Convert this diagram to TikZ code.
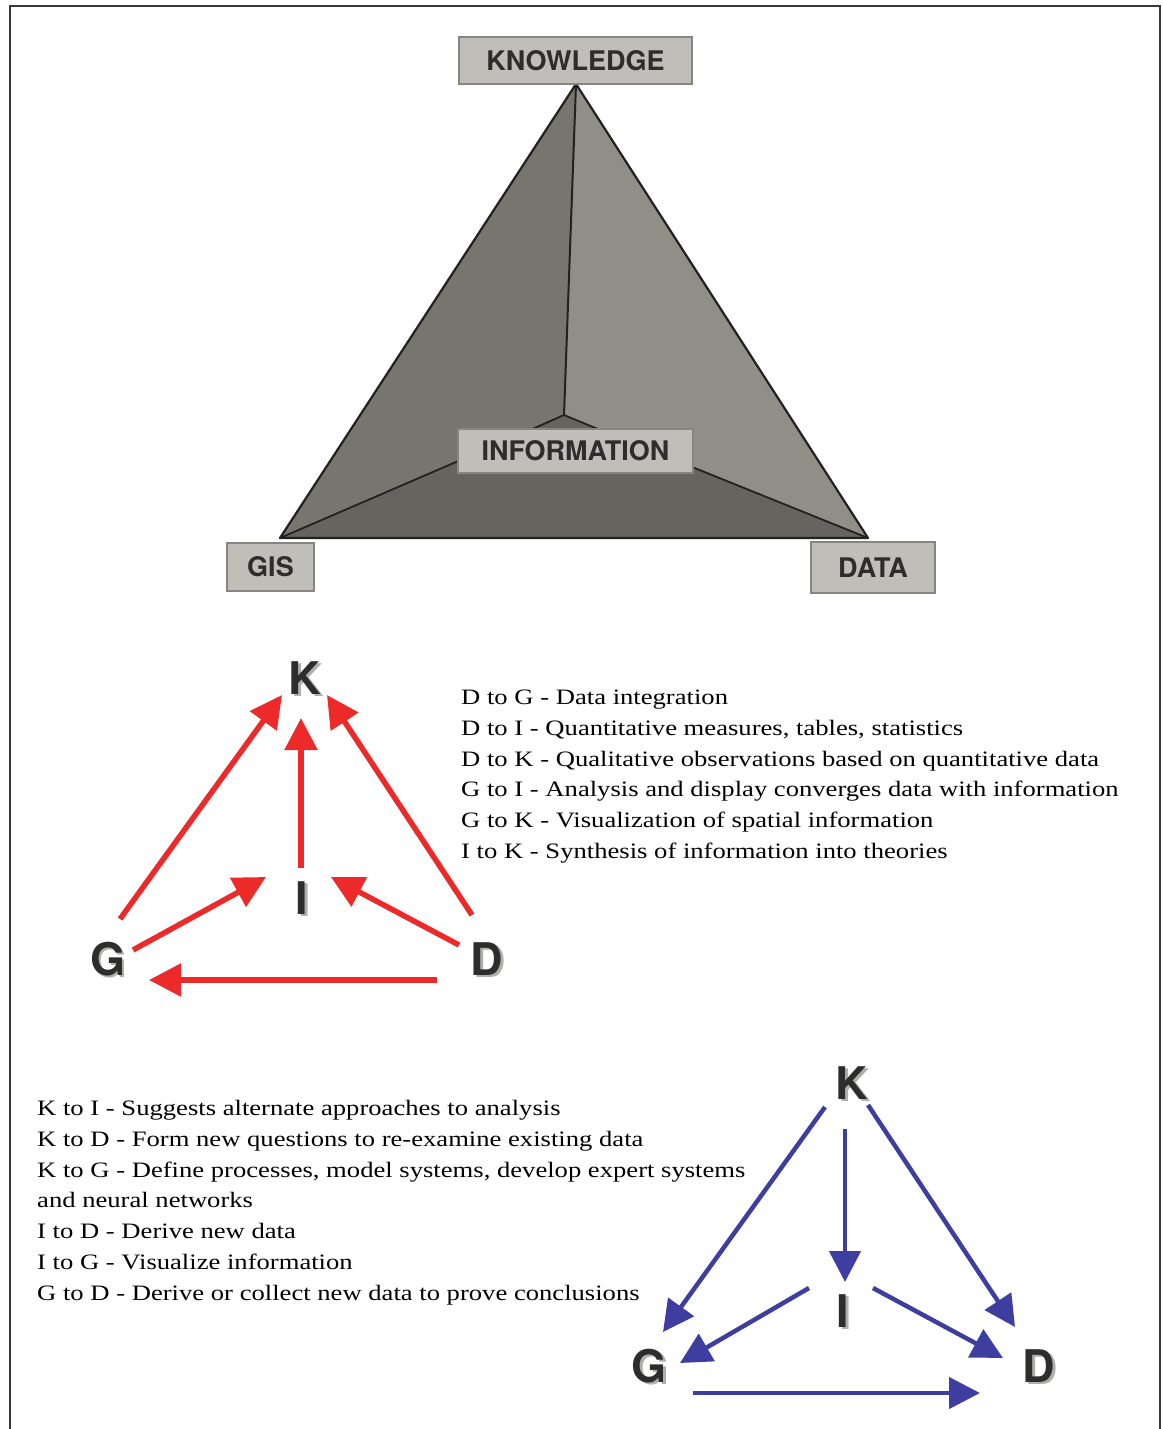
\documentclass[tikz,border=0pt]{standalone}
\usepackage{fontspec}
\usepackage{graphicx}
\setmainfont{Liberation Serif}
\newfontfamily\labfont{TeX Gyre Heros}
\usetikzlibrary{arrows.meta}
\definecolor{frameC}{RGB}{60,58,55}
\definecolor{boxFill}{RGB}{192,190,184}
\definecolor{boxLine}{RGB}{135,133,128}
\definecolor{faceL}{RGB}{120,117,111}
\definecolor{faceR}{RGB}{145,142,136}
\definecolor{faceB}{RGB}{103,100,95}
\definecolor{edgeC}{RGB}{35,33,32}
\definecolor{redA}{RGB}{236,42,42}
\definecolor{blueA}{RGB}{62,62,160}
\definecolor{letterC}{RGB}{45,45,45}
\definecolor{shadowC}{RGB}{175,175,172}
\newcommand\stretchtxt[1]{\scalebox{1.21}[1]{#1}}
\newcommand\shadowed[1]{\makebox[0pt][l]{\hspace{2.5pt}\raisebox{-2.5pt}{\textcolor{shadowC}{#1}}}#1}
\tikzset{
  pbox/.style={draw=boxLine, line width=1.5pt, fill=boxFill, inner sep=0pt,
    text=letterC, font=\labfont\bfseries\fontsize{27}{30}\selectfont},
  bigletter/.style={inner sep=0pt, text=letterC, font=\labfont\bfseries\fontsize{45}{50}\selectfont},
  redarrow/.style={draw=redA, line width=5.5pt, -{Triangle[length=32pt,width=32pt]}},
  bluearrow/.style={draw=blueA, line width=4.5pt, -{Triangle[length=31pt,width=31pt]}},
  desc/.style={anchor=base west, inner sep=0pt, font=\fontsize{22}{26}\selectfont},
  edge line/.style={draw=edgeC, line width=2pt, line join=round}
}
\begin{document}
\begin{tikzpicture}[x=1pt,y=-1pt]
\useasboundingbox (0,0) rectangle (1162,1429);
\fill[white] (0,0) rectangle (1162,1429);
% frame
\draw[frameC, line width=2.5pt] (10,1429) -- (10,6) -- (1160,6) -- (1160,1429);

% pyramid
\coordinate (apex) at (576,84);
\coordinate (pG) at (280,538);
\coordinate (pD) at (868,538);
\coordinate (pBL) at (537,427);
\coordinate (pTop) at (564,415);
\coordinate (pBR) at (593,427);
\fill[faceL] (apex) -- (pG) -- (pBL) -- (pTop) -- cycle;
\fill[faceR] (apex) -- (pTop) -- (pBR) -- (pD) -- cycle;
\fill[faceB] (pG) -- (pBL) -- (pTop) -- (pBR) -- (pD) -- cycle;
\draw[edge line] (apex) -- (pTop);
\draw[edge line, line width=1.8pt] (pG) -- (pBL) -- (pTop) -- (pBR) -- (pD);
\draw[edge line, line width=2.2pt] (apex) -- (pG) -- (pD) -- cycle;

\node[pbox, minimum width=233pt, minimum height=47pt] (know) at (575.5,60.5) {KNOWLEDGE};
\node[pbox, minimum width=235pt, minimum height=44pt] (info) at (575.5,451) {INFORMATION};
\node[pbox, minimum width=87pt, minimum height=48pt] (gis) at (270.5,567) {GIS};
\node[pbox, minimum width=124pt, minimum height=51pt] (data) at (873,567.5) {DATA};

% red diagram
\node[bigletter] (rK) at (305,679) {\shadowed{K}};
\node[bigletter] (rI) at (302,899) {\shadowed{I}};
\node[bigletter] (rG) at (108,960) {\shadowed{G}};
\node[bigletter] (rD) at (487,960) {\shadowed{D}};
\coordinate (rGK1) at (120,919);  \coordinate (rGK2) at (282,695);
\coordinate (rIK1) at (301,868);  \coordinate (rIK2) at (301,718);
\coordinate (rDK1) at (472,915);  \coordinate (rDK2) at (327,695);
\coordinate (rGI1) at (133,950);  \coordinate (rGI2) at (266,877);
\coordinate (rDI1) at (459,945);  \coordinate (rDI2) at (331,877);
\coordinate (rDG1) at (437,980);  \coordinate (rDG2) at (149,980);
\draw[redarrow] (rGK1) -- (rGK2);
\draw[redarrow] (rIK1) -- (rIK2);
\draw[redarrow] (rDK1) -- (rDK2);
\draw[redarrow] (rGI1) -- (rGI2);
\draw[redarrow] (rDI1) -- (rDI2);
\draw[redarrow] (rDG1) -- (rDG2);

\node[desc] (rt1) at (461,704.5) {\stretchtxt{D to G - Data integration}};
\node[desc] (rt2) at (461,735.3) {\stretchtxt{D to I - Quantitative measures, tables, statistics}};
\node[desc] (rt3) at (461,766.1) {\stretchtxt{D to K - Qualitative observations based on quantitative data}};
\node[desc] (rt4) at (461,796.9) {\stretchtxt{G to I - Analysis and display converges data with information}};
\node[desc] (rt5) at (461,827.7) {\stretchtxt{G to K - Visualization of spatial information}};
\node[desc] (rt6) at (461,858.5) {\stretchtxt{I to K - Synthesis of information into theories}};

% blue diagram
\node[bigletter] (bK) at (852,1084) {\shadowed{K}};
\node[bigletter] (bI) at (843,1312) {\shadowed{I}};
\node[bigletter] (bG) at (649,1367) {\shadowed{G}};
\node[bigletter] (bD) at (1039,1367) {\shadowed{D}};
\coordinate (bKG1) at (825,1107); \coordinate (bKG2) at (663,1332);
\coordinate (bKI1) at (845,1129); \coordinate (bKI2) at (845,1282);
\coordinate (bKD1) at (868,1105); \coordinate (bKD2) at (1015,1327);
\coordinate (bIG1) at (809,1288); \coordinate (bIG2) at (680,1363);
\coordinate (bID1) at (873,1288); \coordinate (bID2) at (1003,1358);
\coordinate (bGD1) at (693,1393); \coordinate (bGD2) at (980,1393);
\draw[bluearrow] (bKG1) -- (bKG2);
\draw[bluearrow] (bKI1) -- (bKI2);
\draw[bluearrow] (bKD1) -- (bKD2);
\draw[bluearrow] (bIG1) -- (bIG2);
\draw[bluearrow] (bID1) -- (bID2);
\draw[bluearrow] (bGD1) -- (bGD2);

\node[desc] (bt1) at (37,1115.5) {\stretchtxt{K to I - Suggests alternate approaches to analysis}};
\node[desc] (bt2) at (37,1146.3) {\stretchtxt{K to D - Form new questions to re-examine existing data}};
\node[desc] (bt3) at (37,1177.1) {\stretchtxt{K to G - Define processes, model systems, develop expert systems}};
\node[desc] (bt4) at (37,1207.9) {\stretchtxt{and neural networks}};
\node[desc] (bt5) at (37,1238.7) {\stretchtxt{I to D - Derive new data}};
\node[desc] (bt6) at (37,1269.5) {\stretchtxt{I to G - Visualize information}};
\node[desc] (bt7) at (37,1300.3) {\stretchtxt{G to D - Derive or collect new data to prove conclusions}};
\end{tikzpicture}
\end{document}
